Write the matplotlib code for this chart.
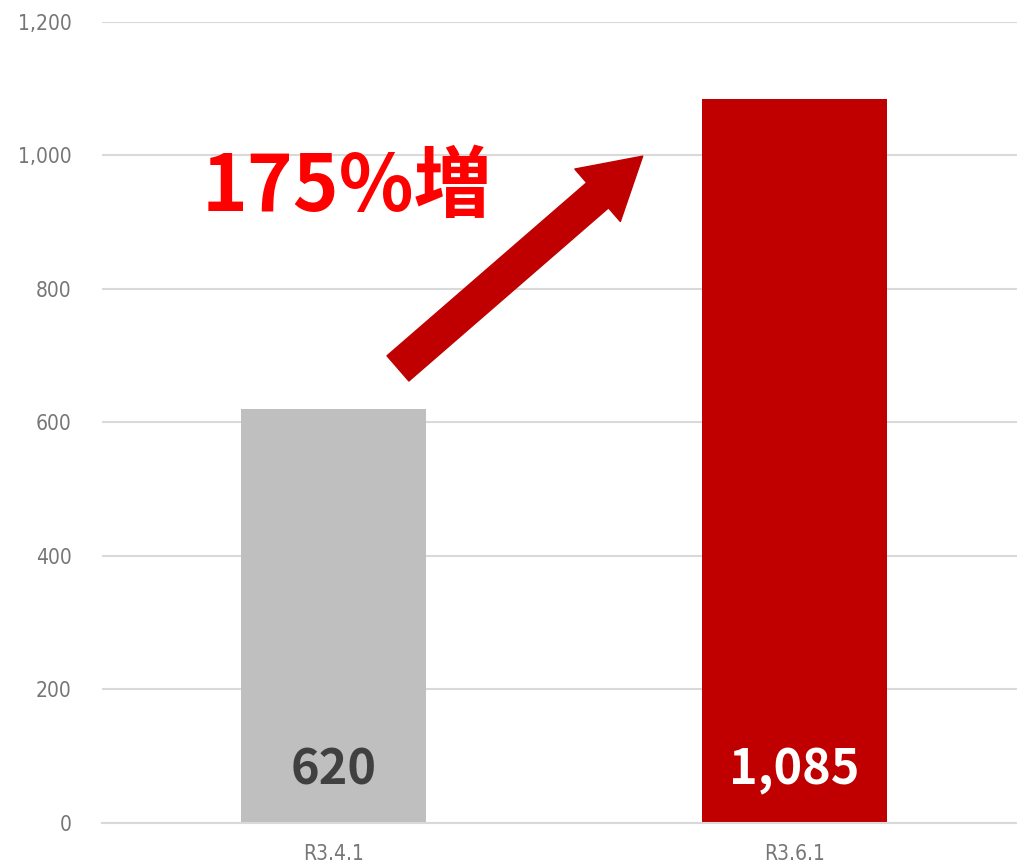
import matplotlib.pyplot as plt
from matplotlib import font_manager

plt.rcParams['font.family'] = ['Noto Sans CJK JP', 'DejaVu Sans']

categories = ["R3.4.1", "R3.6.1"]
values = [620, 1085]
bar_colors = ["#bfbfbf", "#c00000"]
label_colors = ["#404040", "#ffffff"]
yticks = [0, 200, 400, 600, 800, 1000, 1200]
growth_text = "175%増"

fig = plt.figure(figsize=(10.17, 8.65), dpi=100)
ax = fig.add_axes([0.1003, 0.0486, 0.8997, 0.926])

x = range(len(categories))
ax.bar(x, values, width=0.40, color=bar_colors, zorder=2)

ax.set_xlim(-0.502, 1.483)
ax.set_ylim(0, 1200)
ax.set_yticks(yticks)
ax.set_yticklabels([f"{v:,}" for v in yticks])
ax.set_xticks(list(x))
ax.set_xticklabels(categories)

ax.grid(axis="y", color="#d9d9d9", linewidth=1.5, zorder=0)
ax.tick_params(axis="both", length=0, colors="#767676", labelsize=15)
ax.tick_params(axis="y", pad=22)
ax.tick_params(axis="x", pad=15)
for lab in ax.get_xticklabels() + ax.get_yticklabels():
    lab.set_fontfamily("DejaVu Sans")
    lab.set_fontstretch("condensed")
for side in ["top", "right", "left"]:
    ax.spines[side].set_visible(False)
ax.spines["bottom"].set_color("#d9d9d9")
ax.spines["bottom"].set_linewidth(1.5)

# value labels near the bottom of each bar
for i, v in enumerate(values):
    ax.text(i, 79, f"{v:,}", ha="center", va="center", fontsize=35,
            fontweight="bold", color=label_colors[i], zorder=3)

# growth annotation
ax.text(0.03, 951, growth_text, ha="center", va="center", fontsize=56,
        fontweight="bold", color="#ff0000", zorder=3)
ax.annotate("", xy=(0.671, 999), xytext=(0.14, 681),
            arrowprops=dict(arrowstyle="simple,head_length=43,head_width=50,tail_width=24",
                            mutation_scale=1, color="#c00000", shrinkA=0, shrinkB=0),
            zorder=3)

fig.savefig("out.png", dpi=100)
